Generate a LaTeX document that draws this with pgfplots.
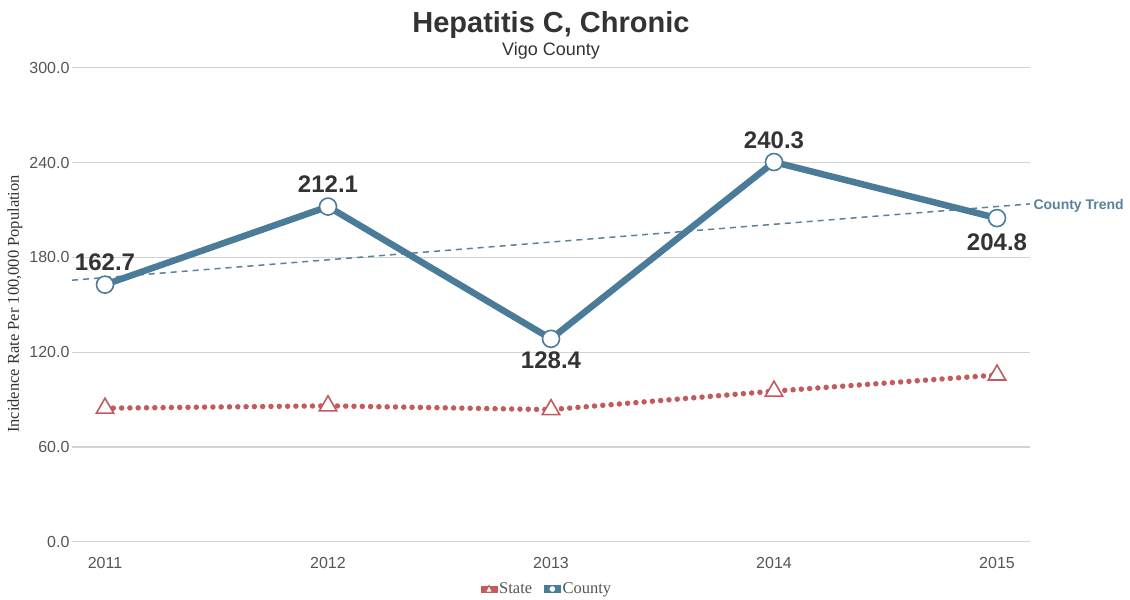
\documentclass[border=0pt]{standalone}
\usepackage{fontspec}
\setmainfont{Liberation Sans}
\newfontfamily\seriffont{Liberation Serif}
\usepackage{pgfplots}
\pgfplotsset{compat=1.18}

\definecolor{countyblue}{HTML}{4A7B99}
\definecolor{trendblue}{HTML}{5A8199}
\definecolor{statered}{HTML}{C25A5E}
\definecolor{gridgray}{HTML}{D2D2D2}
\definecolor{ticktext}{HTML}{555555}
\definecolor{labeltext}{HTML}{333333}

\begin{document}
\begin{tikzpicture}
% canvas
\path (0pt,0pt) rectangle (1130pt,-599pt);

% titles
\node[anchor=base, text=labeltext, font=\bfseries\fontsize{29}{32}\selectfont] at (551pt,-33pt) {Hepatitis C, Chronic};
\node[anchor=base, text=labeltext, font=\fontsize{18}{21}\selectfont] at (551pt,-56pt) {Vigo County};

\begin{axis}[
  at={(72pt,-541.7pt)}, anchor=south west,
  scale only axis, width=958pt, height=474pt,
  xmin=-0.148, xmax=4.148, ymin=0, ymax=300,
  clip=false,
  axis lines=left,
  axis line style={draw=none,-},
  major tick length=0pt,
  ymajorgrids,
  grid style={gridgray, line width=1.2pt},
  ytick={0,60,...,300},
  yticklabels={0.0,60.0,120.0,180.0,240.0,300.0},
  xtick={0,...,4},
  xticklabels={2011,2012,2013,2014,2015},
  /pgf/number format/assume math mode=true,
  tick label style={font=\fontsize{16}{18}\selectfont, text=ticktext},
  yticklabel style={anchor=east, xshift=1pt},
  xticklabel style={anchor=base, yshift=-26.3pt},
  ylabel={Incidence Rate Per 100,000 Population},
  ylabel style={at={(axis description cs:-0.0595,0.5015)}, anchor=center, rotate=0,
                font=\seriffont\fontsize{16.5}{18}\selectfont, text=labeltext},
  legend columns=2,
  legend style={at={(axis description cs:0.4958,-0.0998)}, anchor=center,
                draw=none, fill=none,
                font=\seriffont\fontsize{16.5}{18}\selectfont, text=ticktext,
                /tikz/every even column/.append style={column sep=10pt}},
  legend cell align=left,
]

% state rate
\addplot[statered, line width=5.5pt, line cap=round, dash pattern=on 0pt off 8.3pt,
  mark=triangle*, mark size=10pt,
  mark options={solid, fill=white, draw=statered, line width=1.6pt}, forget plot]
  coordinates {(0,84.5) (1,86.0) (2,83.6) (3,95.3) (4,105.5)};

% county linear trend
\addplot[trendblue, line width=1.5pt, dash pattern=on 6pt off 5pt, forget plot]
  coordinates {(-0.148,165.5) (4.148,213.8)};
\node[anchor=west, text=trendblue, font=\bfseries\fontsize{14}{16}\selectfont]
  at (axis cs:4.148,212.5) {County Trend};

% county rate
\addplot[countyblue, line width=6.5pt, line join=round,
  mark=*, mark size=8.5pt,
  mark options={fill=white, draw=countyblue, line width=1.6pt}, forget plot]
  coordinates {(0,162.7) (1,212.1) (2,128.4) (3,240.3) (4,204.8)};

% value labels
\begin{scope}[every node/.style={anchor=center, text=labeltext, font=\bfseries\fontsize{24}{26}\selectfont}]
\node[yshift=22pt] at (axis cs:0,162.7) {162.7};
\node[yshift=22pt] at (axis cs:1,212.1) {212.1};
\node[yshift=-21pt] at (axis cs:2,128.4) {128.4};
\node[yshift=22pt] at (axis cs:3,240.3) {240.3};
\node[yshift=-24pt] at (axis cs:4,204.8) {204.8};
\end{scope}

% legend
\addlegendimage{legend image code/.code={
  \fill[statered] (0pt,-3pt) rectangle (16pt,3pt);
  \draw[statered, fill=white, line width=1pt] (4.5pt,-3pt) -- (11.5pt,-3pt) -- (8pt,3.5pt) -- cycle;}}
\addlegendentry{State}
\addlegendimage{legend image code/.code={
  \fill[countyblue] (0pt,-3.5pt) rectangle (16pt,3.5pt);
  \draw[countyblue, fill=white, line width=1pt] (8pt,0pt) circle (3.5pt);}}
\addlegendentry{County}
\end{axis}
\end{tikzpicture}
\end{document}
